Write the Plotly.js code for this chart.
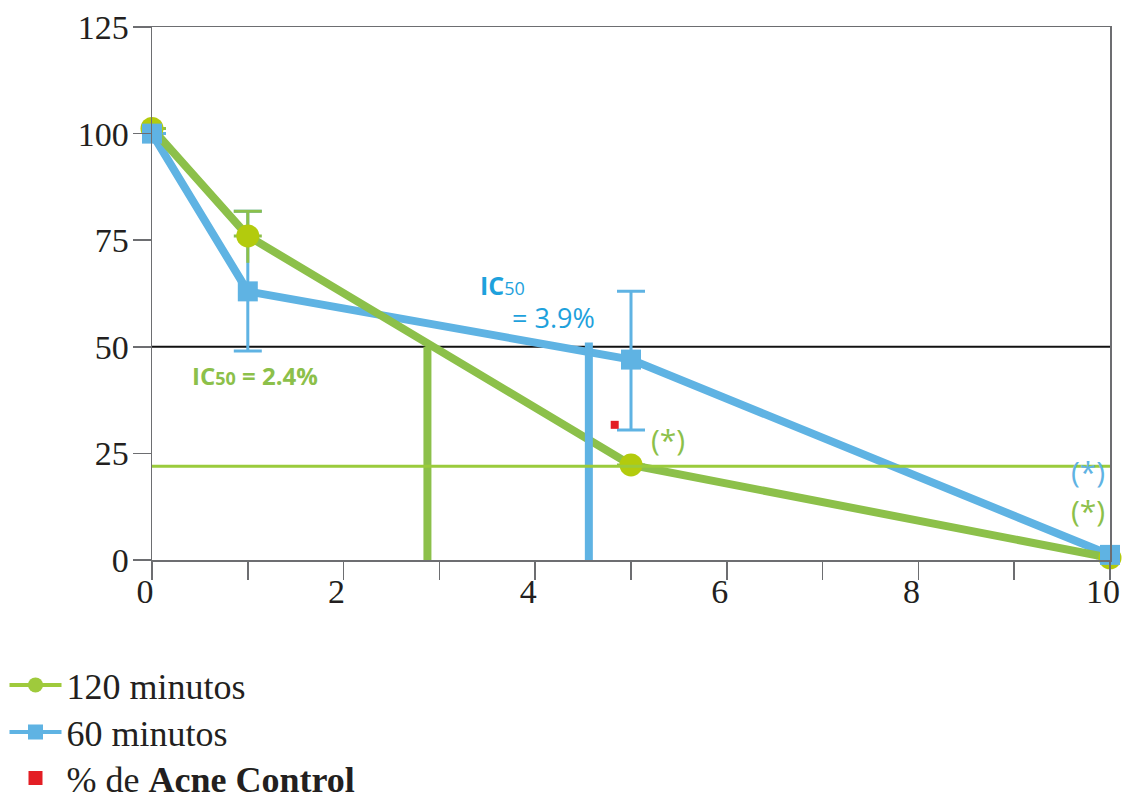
<!DOCTYPE html>
<html>
<head>
<meta charset="utf-8">
<script src="https://cdn.plot.ly/plotly-3.0.1.min.js"></script>
<style>html,body{margin:0;padding:0;background:#fff;}#chart{width:1125px;height:803px;}</style>
</head>
<body>
<div id="chart"></div>
<script>
// ---- data ----
var concentrations = [0, 1, 5, 10];
var series120 = [101.2, 76, 22.3, 0.5];
var err120Plus = [null, 5.8, null, null];
var err120Minus = [null, 6.3, null, null];
var series60 = [100, 63, 47, 1.2];
var err60Plus = [null, 18.8, 16, null];
var err60Minus = [null, 14, 16.5, null];
var acneControlX = [4.83];
var acneControlY = [31.7];
var ic50Lines = [2.875, 4.56];     // vertical IC50 markers (x)
var ic50Top = [50, 51];
var refLine50 = 50;
var refLineGreen = 22;
var yTicks = [0, 25, 50, 75, 100, 125];
var xTicks = [0, 2, 4, 6, 8, 10];
var legendNames = ['120 minutos', '60 minutos', '% de <b>Acne Control</b>'];

var GREEN = '#8cc04a', GREEN_MK = '#b3cb0d', GREEN_TXT = '#8cc04a', GREEN_THIN = '#9acb3c';
var BLUE = '#5fb3e3', BLUE_TXT = '#1ea1dc', RED = '#e31e24';
var AX = '#6d6e71';
var SERIF = '"Liberation Serif", "Times New Roman", serif';
var SANS = '"Open Sans", "Noto Sans", sans-serif';

var traces = [
  {x: concentrations, y: series60, mode: 'lines', line: {color: BLUE, width: 8}, showlegend: false, cliponaxis: false, hoverinfo: 'skip',
   error_y: {type: 'data', array: err60Plus, arrayminus: err60Minus, symmetric: false, color: BLUE, thickness: 3, width: 14}},
  // lower green whisker (no cap)
  {x: concentrations, y: series120, mode: 'markers', marker: {size: 1, opacity: 0}, showlegend: false, cliponaxis: false, hoverinfo: 'skip',
   error_y: {type: 'data', array: err120Minus.map(function(){return null;}), arrayminus: err120Minus, symmetric: false, color: GREEN, thickness: 3, width: 0}},
  {x: concentrations, y: series120, mode: 'lines', line: {color: GREEN, width: 8}, showlegend: false, cliponaxis: false, hoverinfo: 'skip',
   error_y: {type: 'data', array: err120Plus, arrayminus: err120Plus.map(function(){return null;}), symmetric: false, color: GREEN, thickness: 3, width: 14}},
  {x: concentrations, y: series120, mode: 'markers', marker: {symbol: 'circle', size: 23, color: GREEN_MK}, showlegend: false, cliponaxis: false, hoverinfo: 'skip'},
  {x: concentrations, y: series60, mode: 'markers', marker: {symbol: 'square', size: 20, color: BLUE}, showlegend: false, cliponaxis: false, hoverinfo: 'skip'},
  {x: acneControlX, y: acneControlY, mode: 'markers', marker: {symbol: 'square', size: 8, color: RED}, showlegend: false, hoverinfo: 'skip'},
  {x: [null], y: [null], mode: 'lines+markers', name: legendNames[0], line: {color: '#9fca3c', width: 4}, marker: {symbol: 'circle', size: 15, color: '#9fca3c'}, showlegend: true, legend: 'legend'},
  {x: [null], y: [null], mode: 'lines+markers', name: legendNames[1], line: {color: BLUE, width: 4}, marker: {symbol: 'square', size: 15, color: BLUE}, showlegend: true, legend: 'legend2'},
  {x: [null], y: [null], mode: 'markers', name: legendNames[2], marker: {symbol: 'square', size: 14, color: RED}, showlegend: true, legend: 'legend3'}
];

var shapes = [
  {type: 'line', xref: 'x', yref: 'y', x0: 0, x1: 10, y0: refLine50, y1: refLine50, line: {color: '#111', width: 2}, layer: 'below'},
  {type: 'line', xref: 'x', yref: 'y', x0: ic50Lines[0], x1: ic50Lines[0], y0: 0, y1: ic50Top[0], line: {color: GREEN, width: 8}, layer: 'above'},
  {type: 'line', xref: 'x', yref: 'y', x0: ic50Lines[1], x1: ic50Lines[1], y0: 0, y1: ic50Top[1], line: {color: BLUE, width: 8}, layer: 'above'},
  {type: 'line', xref: 'x', yref: 'y', x0: 0, x1: 10, y0: refLineGreen, y1: refLineGreen, line: {color: GREEN_THIN, width: 3}, layer: 'above'}
];

var annotations = [
  {x: 1.075, y: 43.2, xref: 'x', yref: 'y', showarrow: false, text: '<b>IC<span style="font-size:18px">50</span> = 2.4%</b>', font: {family: SANS, size: 24, color: GREEN_TXT}},
  {x: 3.66, y: 64.6, xref: 'x', yref: 'y', showarrow: false, text: '<b>IC</b><span style="font-size:18px">50</span>', font: {family: SANS, size: 25, color: BLUE_TXT}},
  {x: 4.19, y: 56.9, xref: 'x', yref: 'y', showarrow: false, text: '= 3.9%', font: {family: SANS, size: 27, color: BLUE_TXT}},
  {x: 5.39, y: 28.2, xref: 'x', yref: 'y', showarrow: false, text: '(*)', font: {family: SANS, size: 30, color: GREEN_TXT}},
  {x: 9.77, y: 20.7, xref: 'x', yref: 'y', showarrow: false, text: '(*)', font: {family: SANS, size: 30, color: BLUE}},
  {x: 9.77, y: 11.7, xref: 'x', yref: 'y', showarrow: false, text: '(*)', font: {family: SANS, size: 30, color: GREEN_TXT}}
];

function legendAt(yTop, fs) {
  return {
    xref: 'container', yref: 'container',
    x: 0.004, y: yTop, xanchor: 'left', yanchor: 'top', orientation: 'v',
    font: {family: SERIF, size: fs, color: '#231f20'},
    itemwidth: 52, bgcolor: 'rgba(0,0,0,0)'
  };
}

var layout = {
  width: 1125, height: 803,
  margin: {l: 152, r: 15, t: 27, b: 243, autoexpand: false},
  paper_bgcolor: '#fff', plot_bgcolor: '#fff',
  showlegend: true,
  xaxis: {
    range: [0, 10], tickvals: xTicks, ticktext: xTicks.map(String),
    showgrid: false, zeroline: false, showline: true, mirror: true, linecolor: AX, linewidth: 1.5,
    ticks: 'outside', ticklen: 18, tickwidth: 1.5, tickcolor: AX, ticklabelstandoff: -17, ticklabelshift: -7, ticklabeloverflow: 'allow',
    minor: {dtick: 1, tick0: 0, ticks: 'outside', ticklen: 18, tickwidth: 1.5, tickcolor: AX, showgrid: false},
    tickfont: {family: SERIF, size: 34, color: '#231f20'}, fixedrange: true, automargin: false
  },
  yaxis: {
    range: [0, 125], tickvals: yTicks, ticktext: yTicks.map(String),
    showgrid: false, zeroline: false, showline: true, mirror: true, linecolor: AX, linewidth: 1.5,
    ticks: 'outside', ticklen: 18, tickwidth: 1.5, tickcolor: AX, ticklabelstandoff: -3,
    tickfont: {family: SERIF, size: 34, color: '#231f20'}, fixedrange: true, automargin: false
  },
  legend: legendAt(0.1843, 36),
  legend2: legendAt(0.1258, 36),
  legend3: legendAt(0.0685, 36),
  shapes: shapes,
  annotations: annotations
};

Plotly.newPlot('chart', traces, layout, {displayModeBar: false, staticPlot: true});
</script>
</body>
</html>
